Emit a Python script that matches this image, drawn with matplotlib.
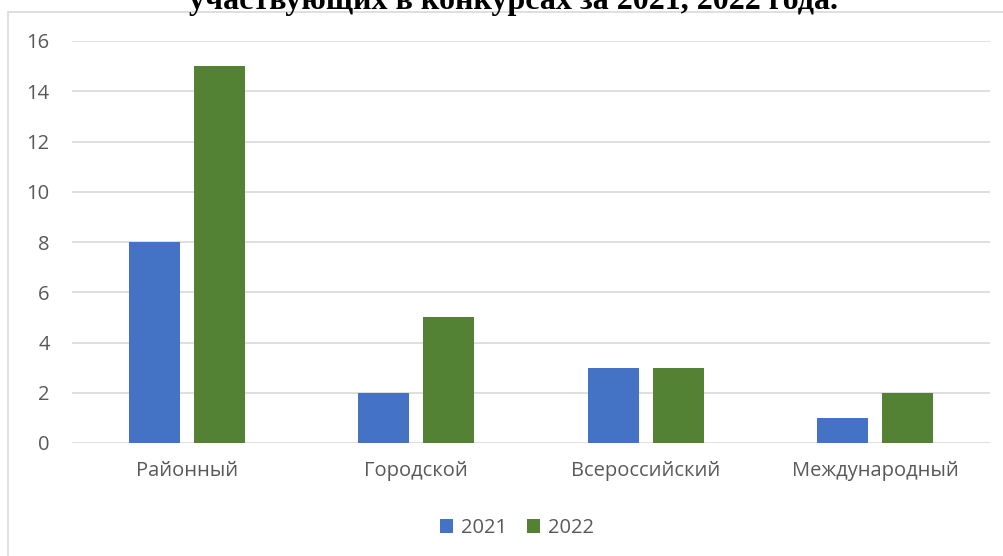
import matplotlib.pyplot as plt
import numpy as np
from matplotlib.patches import Rectangle

categories = ['Районный', 'Городской', 'Всероссийский', 'Международный']
values_2021 = [8, 2, 3, 1]
values_2022 = [15, 5, 3, 2]
series_names = ['2021', '2022']
title = 'участвующих в конкурсах за 2021, 2022 года.'

plt.rcParams['font.family'] = ['Open Sans', 'DejaVu Sans']

fig = plt.figure(figsize=(10.04, 5.56), dpi=100)
W, H = 1004, 556

# frame of the chart area
fig.patches.append(Rectangle((8 / W, -0.1), 1.1, 1 - 12 / H + 0.1, transform=fig.transFigure,
                             fill=False, edgecolor='#d9d9d9', linewidth=1.2))

ax = fig.add_axes([72 / W, 1 - 443 / H, (990 - 72) / W, (443 - 41) / H])

x = np.arange(len(categories))
width = 0.222
offset = 0.141
ax.bar(x - offset, values_2021, width, color='#4472C4', label=series_names[0], zorder=3)
ax.bar(x + offset, values_2022, width, color='#548235', label=series_names[1], zorder=3)

ax.set_xlim(-0.5, len(categories) - 0.5)
ax.set_ylim(0, 16)
ax.set_yticks(range(0, 17, 2))
ax.set_xticks(x)
ax.set_xticklabels(categories)
ax.grid(axis='y', color='#d9d9d9', linewidth=1.2, zorder=0)
for s in ax.spines.values():
    s.set_visible(False)
ax.tick_params(length=0, labelsize=14.5, labelcolor='#595959')
ax.tick_params(axis='x', pad=13)
ax.tick_params(axis='y', pad=16)

fig.legend(loc='center', bbox_to_anchor=(517 / W, 1 - 528 / H), ncol=2, frameon=False,
           fontsize=14.5, labelcolor='#595959', handlelength=0.65, handleheight=0.65,
           handletextpad=0.4, columnspacing=1.0)

fig.text(514 / W, 1 - 9 / H, title, ha='center', va='baseline', fontsize=23,
         fontweight='bold', family='Liberation Serif')

fig.savefig('out.png', dpi=100)
